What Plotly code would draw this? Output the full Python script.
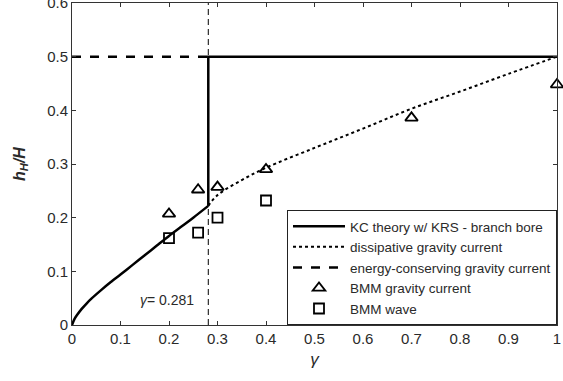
import plotly.graph_objects as go

# KC theory (branch bore): curved branch
kc_x = [0, 0.005, 0.01, 0.02, 0.03, 0.04, 0.06, 0.08, 0.1, 0.125, 0.15, 0.175, 0.2,
        0.225, 0.25, 0.281]
kc_y = [0, 0.011, 0.018, 0.03, 0.04, 0.049, 0.065, 0.08, 0.094, 0.112, 0.13, 0.148, 0.166,
        0.183, 0.2, 0.222]
# KC theory: vertical jump and horizontal branch at 0.5
kc_step_x = [0.281, 0.281, 1.0]
kc_step_y = [0.222, 0.5, 0.5]

# dissipative gravity current
dis_x = [0.281, 0.3, 0.35, 0.4, 0.5, 0.6, 0.7, 0.8, 0.9, 1.0]
dis_y = [0.222, 0.242, 0.27, 0.293, 0.33, 0.366, 0.403, 0.435, 0.468, 0.5]

# energy-conserving gravity current
ec_x = [0, 0.281]
ec_y = [0.5, 0.5]

# gamma = 0.281 marker line
gline_x = [0.281, 0.281]
gline_y = [0, 0.6]

# BMM gravity current (triangles)
tri_x = [0.2, 0.26, 0.3, 0.4, 0.7, 1.0]
tri_y = [0.207, 0.252, 0.257, 0.29, 0.386, 0.448]

# BMM wave (squares)
sq_x = [0.2, 0.26, 0.3, 0.4]
sq_y = [0.162, 0.172, 0.2, 0.232]

x_ticks = [0, 0.1, 0.2, 0.3, 0.4, 0.5, 0.6, 0.7, 0.8, 0.9, 1]
x_ticklabels = ["0", "0.1", "0.2", "0.3", "0.4", "0.5", "0.6", "0.7", "0.8", "0.9", "1"]
y_ticks = [0, 0.1, 0.2, 0.3, 0.4, 0.5, 0.6]
y_ticklabels = ["0", "0.1", "0.2", "0.3", "0.4", "0.5", "0.6"]

FONT = "Liberation Sans, Arial, sans-serif"
TXT = "#2a2a2a"

fig = go.Figure()
fig.add_trace(go.Scatter(x=gline_x, y=gline_y, mode="lines",
                         line=dict(color="black", width=1, dash="6px,4px"),
                         showlegend=False, hoverinfo="skip"))
fig.add_trace(go.Scatter(x=kc_x, y=kc_y, mode="lines", legendgroup="kc",
                         line=dict(color="black", width=2.5, shape="spline", smoothing=0.6),
                         name="KC theory w/ KRS - branch bore"))
fig.add_trace(go.Scatter(x=kc_step_x, y=kc_step_y, mode="lines", legendgroup="kc",
                         line=dict(color="black", width=2.5), showlegend=False))
fig.add_trace(go.Scatter(x=dis_x, y=dis_y, mode="lines",
                         line=dict(color="black", width=2, dash="dot", shape="spline"),
                         name="dissipative gravity current"))
fig.add_trace(go.Scatter(x=ec_x, y=ec_y, mode="lines",
                         line=dict(color="black", width=2.5, dash="dash"),
                         name="energy-conserving gravity current"))
fig.add_trace(go.Scatter(x=tri_x, y=tri_y, mode="markers",
                         marker=dict(symbol="triangle-up-open", size=11, color="black",
                                     line=dict(width=1.8, color="black")),
                         name="BMM gravity current", cliponaxis=False))
fig.add_trace(go.Scatter(x=sq_x, y=sq_y, mode="markers",
                         marker=dict(symbol="square-open", size=10, color="black",
                                     line=dict(width=1.8, color="black")),
                         name="BMM wave"))

fig.add_annotation(x=0.196, y=0.047, xref="x", yref="y",
                   text="<i>γ</i>= 0.281", showarrow=False,
                   font=dict(family=FONT, size=14, color=TXT))

axis_common = dict(showline=True, linecolor="#333", linewidth=1, mirror="ticks",
                   ticks="inside", ticklen=4, tickcolor="#333", showgrid=False,
                   zeroline=False, automargin=False, ticklabeloverflow="allow",
                   tickfont=dict(family=FONT, size=15, color=TXT))

fig.update_xaxes(range=[0, 1], tickvals=x_ticks, ticktext=x_ticklabels,
                 title=dict(text="<i>γ</i>", font=dict(family=FONT, size=17, color=TXT),
                            standoff=7),
                 **axis_common)
fig.update_yaxes(range=[0, 0.6], tickvals=y_ticks, ticktext=y_ticklabels,
                 title=dict(text="<b><i>h</i><sub><i>H</i></sub><i>/H</i></b>",
                            font=dict(family=FONT, size=16, color=TXT), standoff=17),
                 **axis_common)

fig.update_layout(
    width=563, height=381,
    margin=dict(l=72, r=6, t=3, b=56, autoexpand=False),
    paper_bgcolor="white", plot_bgcolor="white",
    showlegend=True,
    legend=dict(x=1, y=0, xanchor="right", yanchor="bottom",
                bgcolor="white", bordercolor="#222", borderwidth=1,
                font=dict(family=FONT, size=13.5, color=TXT),
                tracegroupgap=0, itemwidth=52),
)

fig.write_html("out.html", config={"displayModeBar": False},
               post_script="document.body.style.margin='0';document.body.style.padding='0';")
